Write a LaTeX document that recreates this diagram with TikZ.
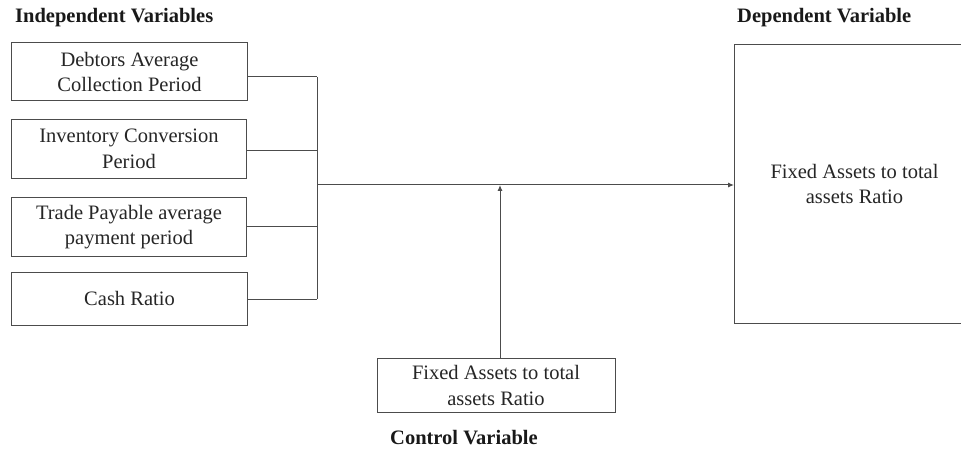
\documentclass[tikz,border=0pt]{standalone}
\usepackage{fontspec}
\setmainfont{Liberation Serif}
\usetikzlibrary{arrows.meta}
\begin{document}
\begin{tikzpicture}[x=1pt,y=-1pt,
  varbox/.style={draw=black!70,line width=1pt,align=center,inner sep=0pt,
    font=\fontsize{20.5}{25.5}\selectfont,text=black!85},
  head/.style={font=\fontsize{20.5}{24}\selectfont\bfseries,text=black!90,inner sep=0pt,anchor=west},
  link/.style={draw=black!70,line width=1pt},
  arr/.style={link,-{Latex[length=6pt,width=5pt]}}]
\useasboundingbox (0,0) rectangle (961,449);
\fill[white] (0,0) rectangle (961,449);
\node[head] (hind) at (15,18) {Independent Variables};
\node[head] (hdep) at (737,18) {Dependent Variable};
\node[head] (hctl) at (390,437.5) {Control Variable};

\node[varbox,minimum width=235.5pt,minimum height=58pt] (b1) at (129.5,72) {Debtors Average\\Collection Period};
\node[varbox,minimum width=235.5pt,minimum height=59pt] (b2) at (129,149) {Inventory Conversion\\Period};
\node[varbox,minimum width=235.5pt,minimum height=59pt] (b3) at (129,227) {Trade Payable average\\payment period};
\node[varbox,minimum width=236pt,minimum height=53pt] (b4) at (129.5,298.5) {Cash Ratio};

\node[varbox,minimum width=238pt,minimum height=54pt] (ctl) at (496,385.5) {Fixed Assets to total\\assets Ratio};
\node[varbox,minimum width=240pt,minimum height=278pt] (dep) at (854.5,184) {Fixed Assets to total\\assets Ratio};

\coordinate (j1) at (317,77);
\coordinate (j2) at (317,151);
\coordinate (j3) at (317,227);
\coordinate (j4) at (317,299);
\coordinate (jm) at (317,185);
\coordinate (cm) at (500,185);

\draw[link] (b1.east |- j1) -- (j1);
\draw[link] (b2.east |- j2) -- (j2);
\draw[link] (b3.east |- j3) -- (j3);
\draw[link] (b4.east |- j4) -- (j4);
\draw[link] (j1) -- (j4);
\draw[arr] (jm) -- (dep.west |- jm);
\draw[arr] (ctl.north -| cm) -- (cm);
\end{tikzpicture}
\end{document}
